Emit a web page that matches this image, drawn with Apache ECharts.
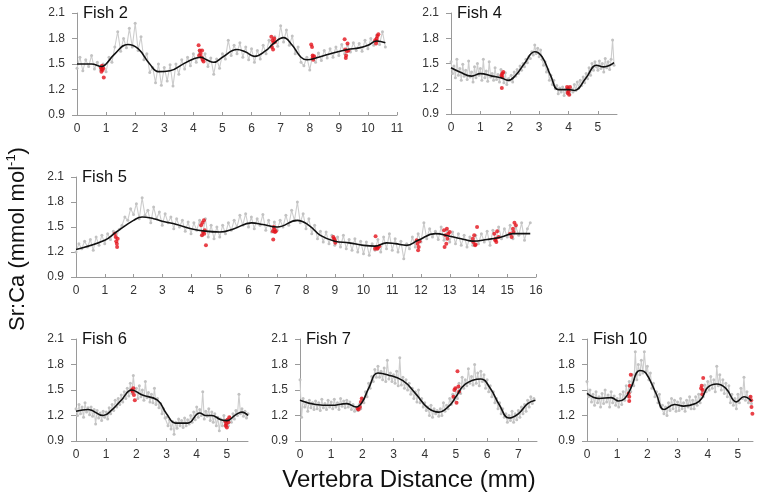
<!DOCTYPE html>
<html><head><meta charset="utf-8">
<script src="https://cdn.jsdelivr.net/npm/echarts@6/dist/echarts.min.js"></script>
<style>html,body{margin:0;padding:0;background:#fff}#c{width:758px;height:499px}</style>
</head><body><div id="c"></div>
<script>
// ---------- DATA ----------
const panelNames = ['Fish 2','Fish 4','Fish 5','Fish 6','Fish 7','Fish 10'];
const xMaxes = [11, 5.65, 16, 5.7, 7.6, 5.5];
const yTicks = [0.9, 1.2, 1.5, 1.8, 2.1];
const graySteps = [0.1, 0.05, 0.1, 0.05, 0.05, 0.05];

const fish2Gray = [1.45,1.58,1.42,1.55,1.47,1.60,1.44,1.52,1.43,1.50,
1.41,1.58,1.52,1.70,1.88,1.65,1.80,1.69,1.92,1.70,
1.98,1.66,1.82,1.55,1.62,1.40,1.46,1.28,1.50,1.25,
1.46,1.30,1.49,1.24,1.50,1.38,1.55,1.44,1.58,1.48,
1.62,1.52,1.66,1.55,1.62,1.47,1.57,1.38,1.56,1.45,
1.62,1.56,1.78,1.60,1.72,1.62,1.75,1.58,1.70,1.55,
1.68,1.52,1.66,1.56,1.72,1.62,1.78,1.70,1.82,1.71,
1.95,1.76,1.90,1.72,1.83,1.62,1.70,1.52,1.48,1.58,
1.43,1.60,1.52,1.63,1.54,1.66,1.57,1.68,1.58,1.70,
1.60,1.73,1.62,1.72,1.64,1.75,1.66,1.74,1.65,1.78,
1.68,1.80,1.72,1.84,1.73,1.88,1.70];
const fish2Curve = [[0,1.50],[0.5,1.50],[0.85,1.47],[1.0,1.50],[1.3,1.62],[1.75,1.73],[2.1,1.68],[2.5,1.50],[2.8,1.41],[3.2,1.42],[3.6,1.49],[4.0,1.56],[4.25,1.58],[4.45,1.55],[4.7,1.52],[5.0,1.58],[5.5,1.67],[5.8,1.64],[6.1,1.59],[6.5,1.66],[6.75,1.74],[7.1,1.81],[7.4,1.72],[7.7,1.58],[7.9,1.55],[8.3,1.58],[8.8,1.63],[9.3,1.67],[9.7,1.69],[10.0,1.72],[10.3,1.77],[10.6,1.75]];
const fish2Red = [[0.82,1.46],[0.85,1.44],[0.88,1.43],[0.86,1.48],[0.9,1.45],[0.92,1.34],[0.84,1.41],
[4.18,1.72],[4.22,1.66],[4.25,1.62],[4.28,1.58],[4.3,1.66],[4.32,1.55],[4.35,1.53],[4.2,1.60],
[6.68,1.82],[6.72,1.78],[6.75,1.75],[6.7,1.70],[6.78,1.80],[6.74,1.67],[6.8,1.76],
[8.05,1.73],[8.08,1.70],[8.1,1.57],[8.12,1.55],[8.15,1.59],[8.1,1.60],
[9.2,1.79],[9.22,1.67],[9.25,1.60],[9.28,1.65],[9.3,1.74],[9.33,1.66],[9.24,1.57],
[10.25,1.78],[10.28,1.74],[10.3,1.80],[10.33,1.83],[10.36,1.85],[10.3,1.77]];

const fish4Gray = [1.52,1.38,1.47,1.33,1.55,1.36,1.44,1.30,1.49,1.35,
1.42,1.31,1.53,1.34,1.40,1.28,1.46,1.33,1.50,1.36,
1.44,1.30,1.55,1.33,1.41,1.29,1.52,1.34,1.38,1.30,
1.45,1.31,1.37,1.28,1.43,1.33,1.27,1.39,1.25,1.32,
1.30,1.36,1.28,1.40,1.35,1.43,1.38,1.47,1.42,1.50,
1.46,1.55,1.51,1.58,1.56,1.64,1.60,1.72,1.62,1.68,
1.58,1.66,1.55,1.48,1.52,1.40,1.43,1.30,1.36,1.25,
1.30,1.20,1.24,1.14,1.21,1.16,1.22,1.12,1.19,1.15,
1.22,1.13,1.20,1.16,1.25,1.18,1.28,1.21,1.30,1.24,
1.34,1.27,1.38,1.32,1.45,1.36,1.50,1.42,1.52,1.46,
1.42,1.53,1.44,1.50,1.40,1.56,1.45,1.52,1.43,1.55,
1.78,1.48];
const fish4Curve = [[0,1.45],[0.3,1.40],[0.7,1.35],[1.0,1.38],[1.4,1.35],[1.7,1.33],[1.95,1.30],[2.2,1.36],[2.5,1.50],[2.85,1.64],[3.1,1.58],[3.4,1.35],[3.65,1.19],[4.0,1.19],[4.2,1.18],[4.6,1.33],[4.95,1.48],[5.2,1.46],[5.55,1.51]];
const fish4Red = [[1.72,1.36],[1.75,1.38],[1.78,1.40],[1.74,1.34],[1.73,1.21],
[3.95,1.22],[3.98,1.20],[4.0,1.17],[4.02,1.13],[4.05,1.22],[3.97,1.15]];

const fish5Gray = [1.20,1.30,1.24,1.33,1.26,1.35,1.22,1.38,1.28,1.40,
1.30,1.42,1.35,1.45,1.38,1.47,1.52,1.62,1.58,1.72,
1.65,1.78,1.60,1.85,1.64,1.70,1.55,1.74,1.60,1.68,
1.52,1.66,1.55,1.62,1.48,1.60,1.50,1.58,1.45,1.56,
1.42,1.55,1.46,1.58,1.40,1.60,1.38,1.52,1.36,1.50,
1.38,1.52,1.42,1.55,1.46,1.58,1.50,1.64,1.52,1.66,
1.50,1.62,1.48,1.60,1.52,1.65,1.46,1.58,1.44,1.56,
1.46,1.58,1.50,1.64,1.52,1.70,1.58,1.80,1.55,1.66,
1.48,1.60,1.42,1.52,1.36,1.45,1.32,1.44,1.30,1.40,
1.28,1.38,1.26,1.40,1.24,1.35,1.22,1.36,1.20,1.33,
1.18,1.32,1.16,1.30,1.22,1.35,1.20,1.38,1.24,1.42,
1.22,1.36,1.20,1.33,1.12,1.30,1.24,1.38,1.26,1.42,
1.32,1.55,1.36,1.48,1.38,1.45,1.35,1.50,1.34,1.46,
1.32,1.44,1.30,1.42,1.28,1.40,1.26,1.38,1.28,1.40,
1.30,1.42,1.32,1.45,1.28,1.46,1.34,1.50,1.36,1.48,
1.38,1.52,1.36,1.50,1.40,1.55,1.34,1.48,1.55];
const fish5Curve = [[0,1.23],[1.0,1.34],[1.4,1.44],[2.0,1.58],[2.3,1.62],[2.7,1.60],[3.0,1.57],[3.5,1.53],[4.0,1.48],[4.5,1.45],[5.0,1.44],[5.5,1.48],[6.1,1.55],[6.5,1.53],[7.0,1.50],[7.7,1.58],[8.1,1.52],[8.5,1.40],[9.0,1.33],[9.5,1.31],[10.0,1.28],[10.4,1.27],[10.8,1.31],[11.1,1.30],[11.5,1.28],[11.9,1.34],[12.5,1.42],[13.0,1.39],[13.5,1.35],[13.8,1.33],[14.3,1.35],[14.8,1.38],[15.2,1.42],[15.8,1.42]];
const fish5Red = [[1.35,1.42],[1.38,1.38],[1.4,1.33],[1.42,1.30],[1.45,1.36],[1.43,1.26],
[4.35,1.52],[4.4,1.55],[4.45,1.58],[4.42,1.44],[4.38,1.40],[4.48,1.46],[4.52,1.28],[4.46,1.42],
[6.85,1.45],[6.88,1.50],[6.9,1.47],[6.92,1.44],[6.86,1.35],[6.95,1.45],
[8.95,1.38],[9.0,1.34],[9.02,1.31],[8.98,1.36],
[10.42,1.39],[10.45,1.26],[10.48,1.24],[10.5,1.25],[10.55,1.27],[10.4,1.24],
[11.85,1.34],[11.88,1.30],[11.9,1.22],[11.92,1.26],[11.95,1.33],
[12.8,1.46],[12.85,1.40],[12.9,1.48],[12.95,1.42],[12.88,1.30],[12.82,1.26],[13.0,1.44],[12.92,1.36],
[13.8,1.36],[13.85,1.40],[13.9,1.29],[13.95,1.50],[13.82,1.32],[13.88,1.28],
[14.55,1.42],[14.6,1.36],[14.65,1.45],[14.62,1.32],[14.7,1.38],[14.58,1.34],
[15.1,1.42],[15.15,1.38],[15.2,1.48],[15.25,1.55],[15.3,1.52],[15.22,1.44]];

const fish6Gray = [1.28,1.20,1.33,1.22,1.30,1.18,1.35,1.24,1.29,1.21,
1.30,1.19,1.27,1.10,1.26,1.17,1.23,1.14,1.25,1.18,
1.24,1.16,1.29,1.22,1.33,1.26,1.38,1.30,1.40,1.33,
1.44,1.36,1.48,1.40,1.52,1.43,1.58,1.46,1.67,1.48,
1.52,1.40,1.55,1.42,1.50,1.38,1.60,1.41,1.47,1.36,
1.45,1.35,1.52,1.33,1.40,1.29,1.34,1.22,1.28,1.17,
1.18,1.08,1.15,1.04,1.13,0.98,1.12,1.05,1.16,1.08,
1.14,1.06,1.17,1.08,1.15,1.10,1.20,1.12,1.24,1.15,
1.30,1.18,1.27,1.20,1.48,1.16,1.25,1.19,1.28,1.14,
1.24,1.12,1.22,1.08,1.18,1.02,1.16,1.08,1.20,1.10,
1.15,1.08,1.18,1.12,1.22,1.16,1.26,1.20,1.45,1.22,
1.28,1.19,1.25,1.17,1.22];
const fish6Curve = [[0,1.25],[0.4,1.27],[0.9,1.20],[1.2,1.27],[1.5,1.38],[1.85,1.50],[2.2,1.44],[2.7,1.38],[3.0,1.22],[3.3,1.11],[3.7,1.11],[4.1,1.23],[4.3,1.20],[4.5,1.20],[4.8,1.15],[5.0,1.14],[5.3,1.21],[5.5,1.24],[5.7,1.20]];
const fish6Red = [[1.85,1.50],[1.88,1.48],[1.9,1.52],[1.92,1.44],[1.95,1.38],
[4.95,1.13],[4.98,1.10],[5.0,1.06],[5.02,1.15],[5.05,1.12],[5.08,1.18],[4.96,1.08]];

const fish7Gray = [1.62,1.18,1.40,1.30,1.36,1.25,1.38,1.29,1.35,1.27,
1.37,1.28,1.35,1.26,1.39,1.29,1.34,1.27,1.38,1.30,
1.36,1.28,1.39,1.30,1.35,1.27,1.40,1.31,1.37,1.29,
1.38,1.30,1.36,1.27,1.33,1.25,1.30,1.26,1.33,1.28,
1.40,1.35,1.48,1.42,1.58,1.52,1.66,1.60,1.74,1.65,
1.78,1.65,1.72,1.62,1.76,1.60,1.85,1.63,1.70,1.60,
1.68,1.58,1.72,1.55,1.88,1.56,1.65,1.52,1.62,1.50,
1.58,1.45,1.52,1.40,1.48,1.36,1.50,1.35,1.40,1.30,
1.35,1.26,1.30,1.20,1.32,1.18,1.28,1.22,1.26,1.19,
1.28,1.20,1.35,1.25,1.32,1.28,1.40,1.33,1.45,1.38,
1.52,1.40,1.58,1.46,1.65,1.52,1.62,1.55,1.75,1.58,
1.66,1.56,1.80,1.58,1.70,1.55,1.72,1.60,1.68,1.52,
1.62,1.48,1.55,1.42,1.48,1.35,1.40,1.28,1.35,1.22,
1.28,1.18,1.22,1.12,1.20,1.14,1.25,1.12,1.22,1.15,
1.26,1.18,1.30,1.22,1.33,1.25,1.38,1.30,1.42,1.34,
1.40];
const fish7Curve = [[0,1.38],[0.5,1.33],[1.0,1.32],[1.5,1.34],[1.8,1.30],[2.0,1.36],[2.2,1.52],[2.5,1.70],[2.8,1.68],[3.3,1.61],[3.7,1.46],[4.1,1.29],[4.45,1.24],[4.8,1.32],[5.0,1.42],[5.3,1.57],[5.8,1.63],[6.1,1.52],[6.4,1.32],[6.7,1.17],[7.0,1.22],[7.3,1.34],[7.55,1.38]];
const fish7Red = [[1.85,1.28],[1.88,1.27],[1.92,1.30],[1.95,1.36],[1.98,1.40],
[4.92,1.42],[4.95,1.50],[4.98,1.52],[5.02,1.35],[5.05,1.72],[5.08,1.54],[5.1,1.48]];

const fish10Gray = [1.60,1.42,1.50,1.36,1.45,1.32,1.48,1.35,1.42,1.30,
1.46,1.34,1.50,1.36,1.44,1.30,1.48,1.35,1.43,1.32,
1.40,1.30,1.45,1.33,1.48,1.38,1.55,1.42,1.60,1.48,
1.68,1.55,1.95,1.62,1.80,1.68,1.85,1.70,1.95,1.72,
1.78,1.62,1.70,1.52,1.58,1.42,1.48,1.35,1.45,1.30,
1.32,1.22,1.30,1.20,1.35,1.26,1.40,1.28,1.38,1.25,
1.36,1.26,1.40,1.28,1.35,1.25,1.38,1.30,1.42,1.28,
1.38,1.28,1.42,1.32,1.45,1.35,1.50,1.42,1.56,1.48,
1.60,1.50,1.66,1.52,1.62,1.48,1.78,1.55,1.68,1.50,
1.62,1.46,1.58,1.42,1.55,1.35,1.45,1.32,1.40,1.28,
1.45,1.35,1.52,1.40,1.65,1.38,1.48,1.35,1.42,1.34];
const fish10Curve = [[0,1.46],[0.4,1.40],[0.8,1.41],[1.05,1.37],[1.25,1.40],[1.45,1.52],[1.75,1.73],[1.95,1.70],[2.3,1.45],[2.55,1.27],[2.9,1.33],[3.2,1.31],[3.6,1.34],[3.8,1.40],[4.0,1.53],[4.3,1.57],[4.6,1.52],[4.95,1.36],[5.2,1.42],[5.45,1.37]];
const fish10Red = [[1.38,1.46],[1.4,1.42],[1.42,1.55],[1.45,1.68],[1.4,1.37],
[3.78,1.52],[3.8,1.55],[3.82,1.45],[3.85,1.64],[3.83,1.50],
[5.42,1.42],[5.45,1.30],[5.48,1.22],[5.44,1.38]];

const grayData = [fish2Gray, fish4Gray, fish5Gray, fish6Gray, fish7Gray, fish10Gray];
const curveData = [fish2Curve, fish4Curve, fish5Curve, fish6Curve, fish7Curve, fish10Curve];
const redData = [fish2Red, fish4Red, fish5Red, fish6Red, fish7Red, fish10Red];

// ---------- LAYOUT ----------
const layout = [
  {left:77, top:13, width:320, height:102},
  {left:451, top:13, width:166, height:101},
  {left:76, top:177, width:460, height:100},
  {left:76, top:339, width:172, height:102},
  {left:300, top:339, width:237, height:102},
  {left:587, top:339, width:166, height:102}
];

const FONT = '"Liberation Sans", Arial, sans-serif';
const axisColor = '#9a9a9a';
const grids = [], xAxes = [], yAxes = [], series = [], titles = [];
layout.forEach((g, i) => {
  grids.push({left:g.left, top:g.top, width:g.width, height:g.height});
  const ints = [];
  for (let v = 0; v <= Math.floor(xMaxes[i] + 1e-9); v++) ints.push(v);
  xAxes.push({
    type:'value', gridIndex:i, min:0, max:xMaxes[i],
    axisLine:{show:true, lineStyle:{color:axisColor, width:1}},
    axisTick:{show:true, inside:true, length:3, customValues:ints, lineStyle:{color:axisColor}},
    axisLabel:{customValues:ints, margin:8, color:'#333', fontSize:12, fontFamily:FONT},
    splitLine:{show:false}
  });
  yAxes.push({
    type:'value', gridIndex:i, min:0.9, max:2.1,
    axisLine:{show:true, lineStyle:{color:axisColor, width:1}},
    axisTick:{show:true, length:5, customValues:yTicks, lineStyle:{color:axisColor}},
    axisLabel:{customValues:yTicks, margin:12, color:'#333', fontSize:12, fontFamily:FONT,
      formatter:v => v.toFixed(1)},
    splitLine:{show:false}
  });
  const step = graySteps[i];
  series.push({
    type:'line', xAxisIndex:i, yAxisIndex:i,
    data: grayData[i].map((y, k) => [+(k*step).toFixed(3), y]),
    symbol:'circle', symbolSize:3, showSymbol:true,
    lineStyle:{color:'#cdcdcd', width:1.1},
    itemStyle:{color:'#c2c2c2'}, z:1, silent:true
  });
  series.push({
    type:'scatter', xAxisIndex:i, yAxisIndex:i, data: redData[i],
    symbol:'circle', symbolSize:4, itemStyle:{color:'#e3131b'}, z:2, silent:true
  });
  series.push({
    type:'line', xAxisIndex:i, yAxisIndex:i, data: curveData[i],
    smooth:0.45, showSymbol:false, symbol:'none',
    lineStyle:{color:'#111', width:1.6}, z:3, silent:true
  });
  titles.push({text:panelNames[i], left:g.left+1, top:g.top-13,
    textStyle:{fontSize:16.5, fontWeight:'normal', color:'#111', fontFamily:FONT}});
});

const chart = echarts.init(document.getElementById('c'), null, {renderer:'canvas'});
chart.setOption({
  animation:false,
  backgroundColor:'#fff',
  title:titles,
  grid:grids, xAxis:xAxes, yAxis:yAxes, series:series,
  graphic:[
    {type:'text', x:409, y:480, style:{text:'Vertebra Distance (mm)', font:'24px ' + FONT, fill:'#111', align:'center', verticalAlign:'middle'}},
    {type:'text', x:18, y:239, rotation:Math.PI/2,
      style:{text:'{a|Sr:Ca (mmol mol}{b|-1}{a|)}', align:'center', verticalAlign:'middle', fill:'#111',
        rich:{a:{fontSize:22, fontFamily:FONT, fill:'#111', color:'#111'},
              b:{fontSize:13, fontFamily:FONT, fill:'#111', color:'#111', padding:[0,0,13,0]}}}}
  ]
});
</script></body></html>
